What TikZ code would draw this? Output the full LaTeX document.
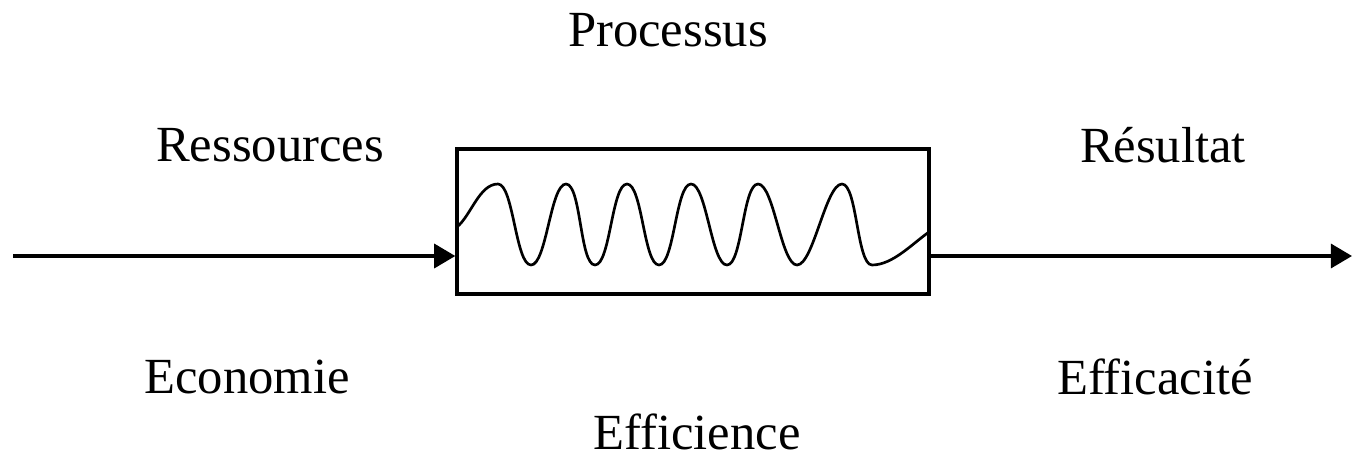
\documentclass[tikz,border=0pt]{standalone}
\usepackage{fontspec}
\setmainfont{Liberation Serif}
\usetikzlibrary{arrows.meta}

\begin{document}
\begin{tikzpicture}[x=0.025cm, y=-0.025cm, thick, every node/.style={font=\fontsize{36}{43}\selectfont}]
        \useasboundingbox (0,0) rectangle (1352,460);
        % Process box
        \node[draw, line width=2.4pt, minimum width=472*0.025cm, minimum height=145*0.025cm, inner sep=0pt] (box) at (693,221.5) {};
        \coordinate (in) at (13,256);
        \coordinate (out) at (1352,256);

        % Flow line
        \draw[line width=2.6pt, -{Triangle[length=15pt, width=17pt]}] (in) -- (in -| box.west);
        \draw[line width=2.6pt, -{Triangle[length=15pt, width=17pt]}] (out -| box.east) -- (out);

        % Wave
        \draw[line width=1.9pt, looseness=0.45] (457,227) to[out=40,in=180,looseness=0.8] (498,184)
            to[out=0,in=180] (531,265) to[out=0,in=180] (566,184)
            to[out=0,in=180] (595,265) to[out=0,in=180] (627,184)
            to[out=0,in=180] (659,265) to[out=0,in=180] (691,184)
            to[out=0,in=180] (727,265) to[out=0,in=180] (758,184)
            to[out=0,in=180] (797,265) to[out=0,in=180] (842,184)
            to[out=0,in=180] (872,265) to[out=0,in=215,looseness=0.8] (929,232);

        % Labels
        \node (proc) at (668,30) {Processus};
        \node (res) at (270,145) {Ressources};
        \node (result) at (1163,145) {Résultat};
        \node (eco) at (247,377) {Economie};
        \node (effic) at (1155,377) {Efficacité};
        \node (effi) at (697,432) {Efficience};
    \end{tikzpicture}
\end{document}
